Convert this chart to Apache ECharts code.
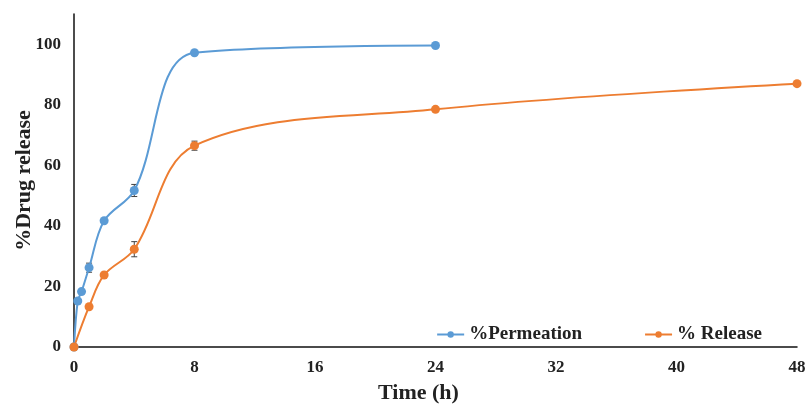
<!DOCTYPE html>
<html><head><meta charset="utf-8">
<script src="https://cdn.jsdelivr.net/npm/echarts@6/dist/echarts.min.js"></script>
<style>html,body{margin:0;padding:0;background:#fff}#c{width:810px;height:405px}</style>
</head><body><div id="c"></div>
<script>
const permTime = [0, 0.25, 0.5, 1, 2, 4, 8, 24];
const permValue = [0, 15.2, 18.3, 26.2, 41.7, 51.7, 97.2, 99.6];
const permErr = [0, 0, 0, 1.5, 0, 2, 0, 0];
const relTime = [0, 1, 2, 4, 8, 24, 48];
const relValue = [0, 13.3, 23.8, 32.3, 66.5, 78.5, 87.0];
const relErr = [0, 0, 0, 2.5, 1.5, 0, 0];
const seriesNames = ['%Permeation', '% Release'];
const colors = ['#5B9BD5', '#ED7D31'];

function pairs(t, v) { return t.map((x, i) => [x, v[i]]); }
function errData(t, v, e) { return t.map((x, i) => [x, v[i] - e[i], v[i] + e[i]]).filter((d, i) => e[i] > 0); }
function errSeries(data) {
  return {
    type: 'custom', silent: true, z: 1,
    renderItem: function (params, api) {
      const x = api.value(0);
      const lo = api.coord([x, api.value(1)]);
      const hi = api.coord([x, api.value(2)]);
      const w = 3;
      const st = { stroke: '#404040', lineWidth: 1 };
      return { type: 'group', children: [
        { type: 'line', shape: { x1: lo[0], y1: lo[1], x2: hi[0], y2: hi[1] }, style: st },
        { type: 'line', shape: { x1: lo[0] - w, y1: lo[1], x2: lo[0] + w, y2: lo[1] }, style: st },
        { type: 'line', shape: { x1: hi[0] - w, y1: hi[1], x2: hi[0] + w, y2: hi[1] }, style: st }
      ]};
    },
    data: data
  };
}
const font = '"Liberation Serif", "Times New Roman", serif';
const chart = echarts.init(document.getElementById('c'));
chart.setOption({
  animation: false,
  textStyle: { fontFamily: font },
  grid: { left: 74, right: 13, top: 14, bottom: 58, containLabel: false, outerBoundsMode: 'none' },
  legend: {
    data: seriesNames, right: 43, top: 320, itemGap: 62, itemWidth: 27, itemHeight: 8,
    textStyle: { fontFamily: font, fontWeight: 'bold', fontSize: 19, color: '#222' }
  },
  xAxis: {
    type: 'value', min: 0, max: 48, interval: 8,
    name: 'Time (h)', nameLocation: 'middle', nameGap: 35, nameMoveOverlap: false,
    nameTextStyle: { fontFamily: font, fontWeight: 'bold', fontSize: 22, color: '#222', padding: [0, 34, 0, 0] },
    axisLine: { lineStyle: { color: '#111', width: 1.5 } },
    axisTick: { show: false },
    splitLine: { show: false },
    axisLabel: { fontFamily: font, fontWeight: 'bold', fontSize: 17, color: '#222', margin: 12 }
  },
  yAxis: {
    type: 'value', min: 0, max: 110, interval: 20,
    name: '%Drug release', nameLocation: 'middle', nameGap: 39, nameMoveOverlap: false,
    nameTextStyle: { fontFamily: font, fontWeight: 'bold', fontSize: 22, color: '#222' },
    axisLine: { show: true, lineStyle: { color: '#111', width: 1.5 } },
    axisTick: { show: false },
    splitLine: { show: false },
    axisLabel: { fontFamily: font, fontWeight: 'bold', fontSize: 17, color: '#222', margin: 13, showMaxLabel: false,
      formatter: v => (v > 100 ? '' : v) }
  },
  series: [
    { name: seriesNames[0], type: 'line', smooth: 0.35, data: pairs(permTime, permValue),
      symbol: 'circle', symbolSize: 9, z: 3,
      itemStyle: { color: colors[0] }, lineStyle: { color: colors[0], width: 2 } },
    { name: seriesNames[1], type: 'line', smooth: 0.35, data: pairs(relTime, relValue),
      symbol: 'circle', symbolSize: 9, z: 3,
      itemStyle: { color: colors[1] }, lineStyle: { color: colors[1], width: 2 } },
    errSeries(errData(permTime, permValue, permErr)),
    errSeries(errData(relTime, relValue, relErr))
  ]
});
</script></body></html>
